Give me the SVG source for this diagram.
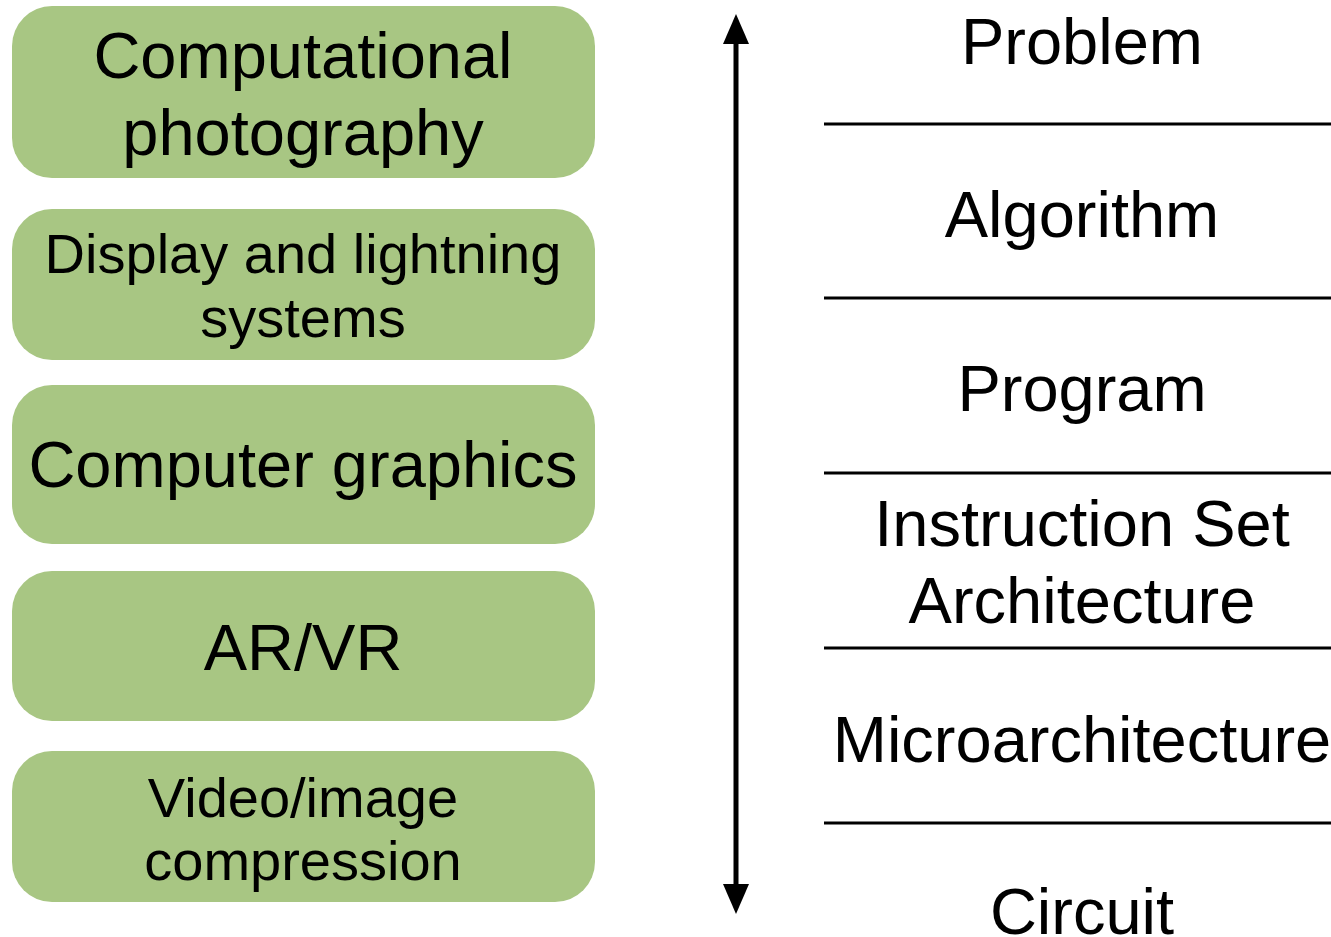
<svg xmlns="http://www.w3.org/2000/svg" width="1331" height="937" viewBox="0 0 1331 937">
<defs>
<style>
.box{fill:#a8c683}
.t{font-family:"Liberation Sans",Arial,sans-serif;fill:#000;text-anchor:middle}
.big{font-size:65px}
.mid{font-size:56px}
.sep{stroke:#000;stroke-width:3}
.head{fill:#000}
</style>
</defs>
<rect width="1331" height="937" fill="#fff"/>
<g id="n1"><rect class="box" x="12" y="6" width="583" height="172" rx="40"/><text class="t big" x="303" y="78">Computational</text><text class="t big" x="303" y="155">photography</text></g>
<g id="n2"><rect class="box" x="12" y="209" width="583" height="151" rx="40"/><text class="t mid" x="303" y="273">Display and lightning</text><text class="t mid" x="303" y="337">systems</text></g>
<g id="n3"><rect class="box" x="12" y="385" width="583" height="159" rx="40"/><text class="t big" x="303" y="487">Computer graphics</text></g>
<g id="n4"><rect class="box" x="12" y="571" width="583" height="150" rx="40"/><text class="t big" x="303" y="670">AR/VR</text></g>
<g id="n5"><rect class="box" x="12" y="751" width="583" height="151" rx="40"/><text class="t mid" x="303" y="817">Video/image</text><text class="t mid" x="303" y="880">compression</text></g>
<g id="connectors">
<line x1="736" y1="40" x2="736" y2="888" stroke="#000" stroke-width="5"/>
<polygon class="head" points="736,14 749,44 723,44"/>
<polygon class="head" points="736,914 749,884 723,884"/>
<line class="sep" x1="824" y1="124" x2="1331" y2="124"/>
<line class="sep" x1="824" y1="298" x2="1331" y2="298"/>
<line class="sep" x1="824" y1="473" x2="1331" y2="473"/>
<line class="sep" x1="824" y1="648" x2="1331" y2="648"/>
<line class="sep" x1="824" y1="823" x2="1331" y2="823"/>
</g>
<g id="levels">
<text class="t big" x="1082" y="64">Problem</text>
<text class="t big" x="1082" y="237">Algorithm</text>
<text class="t big" x="1082" y="411">Program</text>
<text class="t big" x="1082" y="546">Instruction Set</text>
<text class="t big" x="1082" y="623">Architecture</text>
<text class="t big" x="1082" y="762">Microarchitecture</text>
<text class="t big" x="1082" y="934">Circuit</text>
</g>
</svg>
